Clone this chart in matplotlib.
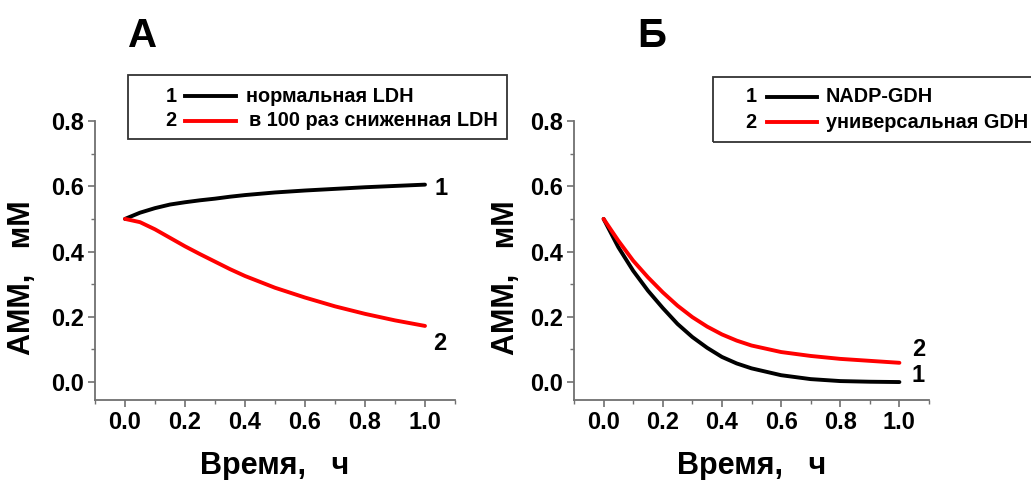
import matplotlib
matplotlib.use("Agg")
import matplotlib.pyplot as plt
from matplotlib.lines import Line2D
from matplotlib.patches import Rectangle
from matplotlib.ticker import MultipleLocator

plt.rcParams['font.family'] = ['Liberation Sans', 'DejaVu Sans']
plt.rcParams['font.weight'] = 'bold'

# ---- data ----
t_a = [0.0, 0.05, 0.1, 0.15, 0.2, 0.25, 0.3, 0.35, 0.4, 0.5, 0.6, 0.7, 0.8, 0.9, 1.0]
a_normal = [0.500, 0.519, 0.533, 0.544, 0.551, 0.557, 0.562, 0.568, 0.573, 0.581, 0.587, 0.592, 0.597, 0.601, 0.605]
a_reduced = [0.500, 0.490, 0.468, 0.442, 0.416, 0.392, 0.369, 0.346, 0.325, 0.289, 0.259, 0.232, 0.209, 0.189, 0.172]

t_b = [0.0, 0.05, 0.1, 0.15, 0.2, 0.25, 0.3, 0.35, 0.4, 0.45, 0.5, 0.6, 0.7, 0.8, 0.9, 1.0]
b_nadp = [0.500, 0.413, 0.341, 0.280, 0.227, 0.178, 0.138, 0.105, 0.077, 0.057, 0.042, 0.021, 0.009, 0.003, 0.001, 0.000]
b_univ = [0.500, 0.433, 0.372, 0.321, 0.275, 0.234, 0.199, 0.170, 0.146, 0.127, 0.112, 0.092, 0.080, 0.071, 0.065, 0.059]

xticks = [0.0, 0.2, 0.4, 0.6, 0.8, 1.0]
yticks = [0.0, 0.2, 0.4, 0.6, 0.8]
legend_a = ["нормальная LDH", "в 100 раз сниженная LDH"]
legend_b = ["NADP-GDH", "универсальная GDH"]
panel_titles = ["А", "Б"]
xlabel = "Время,   ч"
ylabel = "АММ,   мМ"

W, H = 1031, 480
fig = plt.figure(figsize=(W / 100, H / 100), dpi=100)

def fx(px):
    return px / W

def fy(py):
    return 1 - py / H

spine_col = '#707070'

def make_axes(left_px, right_px, ylab_x, top_px=121, bottom_px=400):
    ax = fig.add_axes([fx(left_px), fy(bottom_px), (right_px - left_px) / W, (bottom_px - top_px) / H])
    ax.set_xlim(-0.1, 1.1)
    ax.set_ylim(-0.055, 0.8)
    for s in ['top', 'right']:
        ax.spines[s].set_visible(False)
    for s in ['left', 'bottom']:
        ax.spines[s].set_color(spine_col)
        ax.spines[s].set_linewidth(1.3)
    ax.set_xticks(xticks)
    ax.set_yticks(yticks)
    ax.set_xticklabels([f"{v:.1f}" for v in xticks])
    ax.set_yticklabels([f"{v:.1f}" for v in yticks])
    ax.xaxis.set_minor_locator(MultipleLocator(0.1))
    ax.yaxis.set_minor_locator(MultipleLocator(0.1))
    ax.tick_params(which='major', length=5, width=1.2, color=spine_col, labelsize=17, pad=3)
    ax.tick_params(which='minor', length=3, width=1.0, color=spine_col)
    for lab in ax.get_xticklabels() + ax.get_yticklabels():
        lab.set_fontweight('bold')
    ax.set_xlabel(xlabel, fontsize=22, fontweight='bold', labelpad=12)
    ax.set_ylabel(ylabel, fontsize=22, fontweight='bold')
    ax.yaxis.set_label_coords((ylab_x - left_px) / (right_px - left_px), (bottom_px - 278) / (bottom_px - top_px))
    return ax

axA = make_axes(95, 455, 37)
axA.plot(t_a, a_normal, color='black', lw=2.8, solid_capstyle='round')
axA.plot(t_a, a_reduced, color='#ff0000', lw=2.8, solid_capstyle='round')
axA.text(1.054, 0.592, "1", fontsize=17, fontweight='bold', ha='center', va='center')
axA.text(1.048, 0.117, "2", fontsize=17, fontweight='bold', ha='center', va='center')

axB = make_axes(574, 929, 521)
axB.plot(t_b, b_nadp, color='black', lw=2.8, solid_capstyle='round')
axB.plot(t_b, b_univ, color='#ff0000', lw=2.8, solid_capstyle='round')
axB.text(1.067, 0.100, "2", fontsize=17, fontweight='bold', ha='center', va='center')
axB.text(1.062, 0.019, "1", fontsize=17, fontweight='bold', ha='center', va='center')

# panel letters
fig.text(fx(143), fy(47), panel_titles[0], fontsize=29, fontweight='bold', ha='center', va='baseline')
fig.text(fx(652), fy(47), panel_titles[1], fontsize=29, fontweight='bold', ha='center', va='baseline')

# legends (drawn manually)
def draw_legend(box, num_x, line_x, text_x, rows_y, labels):
    x0, y0, x1, y1 = box
    fig.add_artist(Rectangle((fx(x0), fy(y1)), (x1 - x0) / W, (y1 - y0) / H,
                             transform=fig.transFigure, fill=False,
                             edgecolor='#333333', lw=1.3))
    colors = ['black', '#ff0000']
    for i, (ry, lab) in enumerate(zip(rows_y, labels)):
        fig.text(fx(num_x), fy(ry), str(i + 1), fontsize=14.3, fontweight='bold', ha='center', va='center')
        fig.add_artist(Line2D([fx(line_x[0]), fx(line_x[1])], [fy(ry), fy(ry)],
                              transform=fig.transFigure, color=colors[i], lw=2.8))
        fig.text(fx(text_x[i]), fy(ry), lab, fontsize=14.3, fontweight='bold', ha='left', va='center')

draw_legend((128, 75, 507, 139), 171, (185, 236), (246, 249), (96, 121), legend_a)
draw_legend((713, 77, 1040, 142), 751, (767, 817), (826, 826), (97, 122), legend_b)

fig.savefig("out.png", dpi=100)
